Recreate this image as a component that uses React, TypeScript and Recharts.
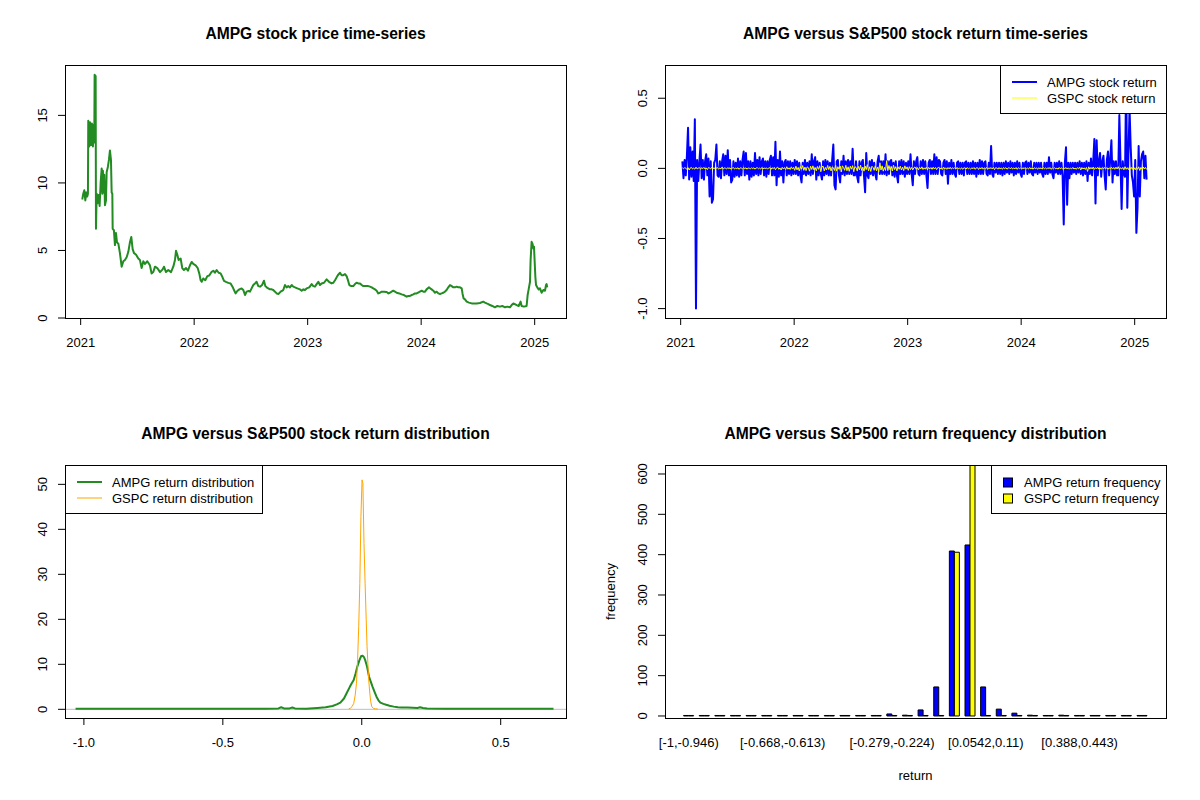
import React from 'react';
import { LineChart, Line, BarChart, Bar, XAxis, YAxis, ReferenceLine } from 'recharts';

/* ------------------------------------------------------------------ */
/* Data (read off the reference picture)                               */
/* ------------------------------------------------------------------ */

// AMPG close price: decimal year / USD
const PRICE_T = [
  2021.014, 2021.023, 2021.032, 2021.041, 2021.05, 2021.058, 2021.064, 2021.067, 2021.076, 2021.082,
  2021.091, 2021.099, 2021.108, 2021.114, 2021.12, 2021.123, 2021.132, 2021.135, 2021.141, 2021.15,
  2021.158, 2021.167, 2021.176, 2021.185, 2021.191, 2021.196, 2021.202, 2021.208, 2021.214, 2021.223,
  2021.229, 2021.24, 2021.249, 2021.258, 2021.267, 2021.273, 2021.279, 2021.282, 2021.293, 2021.302,
  2021.311, 2021.32, 2021.332, 2021.346, 2021.361, 2021.376, 2021.39, 2021.405, 2021.42, 2021.434,
  2021.446, 2021.458, 2021.47, 2021.487, 2021.508, 2021.522, 2021.537, 2021.552, 2021.567, 2021.587,
  2021.61, 2021.625, 2021.64, 2021.655, 2021.675, 2021.699, 2021.722, 2021.734, 2021.752, 2021.772,
  2021.796, 2021.816, 2021.831, 2021.84, 2021.851, 2021.863, 2021.881, 2021.895, 2021.91, 2021.928,
  2021.945, 2021.963, 2021.978, 2021.992, 2022.013, 2022.031, 2022.045, 2022.057, 2022.066, 2022.08,
  2022.098, 2022.116, 2022.133, 2022.154, 2022.169, 2022.183, 2022.198, 2022.216, 2022.233, 2022.248,
  2022.263, 2022.28, 2022.301, 2022.321, 2022.339, 2022.351, 2022.365, 2022.38, 2022.398, 2022.418,
  2022.433, 2022.448, 2022.462, 2022.48, 2022.492, 2022.506, 2022.521, 2022.536, 2022.55, 2022.565,
  2022.58, 2022.598, 2022.615, 2022.627, 2022.639, 2022.653, 2022.668, 2022.683, 2022.697, 2022.712,
  2022.727, 2022.744, 2022.762, 2022.785, 2022.8, 2022.815, 2022.829, 2022.844, 2022.859, 2022.873,
  2022.888, 2022.909, 2022.932, 2022.947, 2022.962, 2022.976, 2022.991, 2023.014, 2023.035, 2023.05,
  2023.064, 2023.079, 2023.094, 2023.108, 2023.123, 2023.144, 2023.167, 2023.188, 2023.211, 2023.226,
  2023.241, 2023.261, 2023.273, 2023.285, 2023.299, 2023.314, 2023.329, 2023.343, 2023.355, 2023.367,
  2023.384, 2023.402, 2023.417, 2023.431, 2023.446, 2023.461, 2023.476, 2023.49, 2023.514, 2023.534,
  2023.549, 2023.564, 2023.578, 2023.593, 2023.608, 2023.622, 2023.637, 2023.652, 2023.672, 2023.696,
  2023.711, 2023.725, 2023.74, 2023.754, 2023.769, 2023.784, 2023.807, 2023.828, 2023.848, 2023.872,
  2023.887, 2023.901, 2023.916, 2023.931, 2023.945, 2023.96, 2023.981, 2024.004, 2024.019, 2024.034,
  2024.048, 2024.069, 2024.081, 2024.092, 2024.107, 2024.122, 2024.136, 2024.151, 2024.166, 2024.18,
  2024.195, 2024.21, 2024.224, 2024.239, 2024.254, 2024.269, 2024.283, 2024.298, 2024.313, 2024.327,
  2024.342, 2024.357, 2024.365, 2024.374, 2024.386, 2024.401, 2024.421, 2024.445, 2024.465, 2024.489,
  2024.518, 2024.547, 2024.562, 2024.577, 2024.592, 2024.606, 2024.627, 2024.65, 2024.671, 2024.694,
  2024.715, 2024.738, 2024.759, 2024.782, 2024.797, 2024.812, 2024.826, 2024.841, 2024.859, 2024.876,
  2024.885, 2024.906, 2024.929, 2024.938, 2024.947, 2024.959, 2024.964, 2024.973, 2024.982, 2024.988,
  2024.994, 2025.0, 2025.006, 2025.012, 2025.023, 2025.035, 2025.047, 2025.061, 2025.076, 2025.091,
  2025.1, 2025.105, 2025.111,
];
const PRICE_V = [
  8.77, 9.2, 9.46, 8.7, 9.3, 9.0, 9.2, 14.6, 12.7, 14.5,
  12.8, 14.4, 12.7, 14.3, 13.0, 18.0, 17.9, 6.6, 9.2, 8.5,
  9.1, 8.3, 10.0, 11.06, 9.2, 10.9, 9.3, 10.6, 8.35, 8.7,
  10.8, 11.2, 11.7, 12.4, 11.7, 9.3, 9.2, 6.6, 6.5, 5.4,
  6.3, 5.6, 5.5, 4.8, 3.8, 4.2, 4.3, 4.5, 4.9, 5.6,
  6.0, 5.1, 4.8, 4.7, 4.4, 4.3, 3.7, 4.2, 4.0, 4.2,
  3.9, 3.3, 3.4, 3.8, 3.7, 3.4, 3.6, 3.8, 3.4, 3.55,
  3.4, 3.8, 4.3, 4.97, 4.7, 4.3, 4.4, 3.7, 3.55, 3.7,
  3.5, 3.9, 4.15, 4.0, 3.9, 3.7, 3.3, 2.8, 2.68, 2.93,
  2.8, 3.1, 3.15, 3.42, 3.5, 3.35, 3.55, 3.35, 3.3, 3.05,
  2.75, 2.68, 2.6, 2.56, 2.3, 2.07, 1.82, 2.0, 2.12, 2.19,
  2.07, 1.7, 1.95, 2.0, 1.95, 2.19, 2.44, 2.56, 2.68, 2.36,
  2.32, 2.44, 2.76, 2.36, 2.27, 2.19, 2.12, 2.12, 2.07, 1.95,
  1.82, 1.78, 1.95, 2.07, 2.44, 2.27, 2.36, 2.27, 2.44, 2.32,
  2.27, 2.19, 2.12, 2.02, 2.12, 2.07, 2.19, 2.27, 2.51, 2.36,
  2.32, 2.51, 2.68, 2.44, 2.56, 2.61, 2.86, 2.68, 2.56, 2.61,
  2.8, 3.1, 3.25, 3.35, 3.17, 3.17, 3.25, 3.1, 2.8, 2.44,
  2.36, 2.36, 2.51, 2.61, 2.56, 2.56, 2.44, 2.36, 2.36, 2.36,
  2.32, 2.27, 2.19, 2.12, 2.02, 1.82, 1.87, 1.95, 1.95, 1.92,
  1.82, 1.87, 1.95, 2.02, 1.95, 1.87, 1.82, 1.75, 1.7, 1.58,
  1.63, 1.63, 1.7, 1.75, 1.82, 1.82, 1.92, 2.02, 1.95, 1.95,
  2.12, 2.27, 2.19, 2.12, 2.02, 1.87, 1.95, 1.82, 1.78, 1.82,
  1.87, 1.95, 2.07, 2.27, 2.44, 2.36, 2.27, 2.27, 2.32, 2.27,
  2.27, 2.19, 1.78, 1.45, 1.38, 1.21, 1.14, 1.08, 1.08, 1.08,
  1.11, 1.21, 1.14, 1.08, 1.03, 0.96, 0.89, 0.79, 0.89, 0.84,
  0.89, 0.79, 0.84, 0.79, 0.96, 1.08, 1.03, 0.96, 0.89, 1.21,
  0.89, 0.84, 0.89, 1.7, 2.12, 2.68, 4.26, 5.64, 5.47, 5.15,
  5.28, 4.16, 3.05, 2.44, 2.27, 2.12, 2.19, 1.87, 2.07, 2.02,
  2.44, 2.51, 2.27,
];

// daily returns, one reading every RET_STEP years from RET_START
const RET_START = 2021.015;
const RET_STEP = 0.01;
const AMPG_RET = [
  0.05, -0.07, 0.06, -0.05, 0.09, 0.29, -0.08, 0.15, -0.06, 0.12, -0.09, 0.35, -1.0, 0.06, -0.09, 0.05, 0.17, -0.07, 0.06, -0.08,
  0.05, 0.1, -0.05, 0.07, -0.2, 0.05, -0.245, -0.22, 0.04, 0.06, 0.17, -0.05, -0.06, 0.05, -0.07, 0.05, 0.1, -0.05, 0.09, -0.04,
  0.13, -0.05, 0.06, -0.1, -0.08, 0.05, -0.06, 0.04, -0.05, 0.07, -0.06, 0.05, -0.05, 0.06, 0.12, -0.05, 0.11, -0.04, 0.05, -0.08,
  0.05, -0.06, 0.04, -0.05, 0.11, -0.04, 0.06, -0.05, 0.08, -0.04, 0.05, 0.07, -0.05, 0.05, -0.06, 0.05, -0.04, 0.06, 0.09, -0.05,
  0.08, -0.05, 0.19, -0.12, 0.06, -0.06, 0.12, -0.05, 0.05, -0.1, 0.04, 0.06, -0.05, 0.05, -0.04, 0.05, -0.05, 0.04, -0.04, 0.06,
  -0.04, 0.05, -0.05, 0.04, -0.05, -0.1, 0.04, -0.04, 0.06, -0.05, 0.04, -0.04, 0.05, -0.05, 0.1, -0.04, 0.05, 0.08, -0.08, 0.05,
  -0.05, 0.04, -0.04, -0.08, 0.05, -0.05, 0.06, -0.04, 0.05, -0.05, 0.04, -0.05, 0.06, 0.17, -0.12, -0.15, 0.05, 0.06, -0.05, -0.1,
  0.05, -0.04, 0.09, -0.05, 0.05, -0.04, 0.06, -0.04, 0.05, -0.04, 0.14, -0.05, -0.05, 0.05, -0.06, -0.1, 0.05, -0.05, 0.04, 0.06,
  -0.05, -0.17, 0.11, -0.05, -0.07, 0.05, -0.04, 0.06, -0.05, 0.04, -0.04, -0.08, 0.05, 0.09, -0.04, 0.05, -0.04, 0.05, -0.04, 0.1,
  -0.05, 0.05, -0.04, 0.05, 0.06, -0.05, 0.04, -0.06, 0.05, -0.05, -0.1, 0.05, -0.04, 0.06, -0.04, 0.05, -0.06, 0.04, -0.04, 0.05,
  -0.04, 0.1, -0.04, -0.12, 0.05, -0.04, 0.05, 0.08, -0.04, -0.05, 0.05, -0.04, 0.06, -0.04, 0.05, -0.05, -0.14, 0.04, 0.06, -0.04,
  0.05, -0.04, 0.1, -0.04, 0.08, -0.04, 0.06, 0.05, -0.04, -0.05, 0.04, 0.06, -0.04, 0.05, -0.11, 0.04, -0.04, 0.06, -0.04, 0.04,
  -0.04, -0.06, 0.04, 0.05, -0.04, 0.04, -0.04, 0.04, -0.05, 0.04, 0.05, -0.04, 0.04, -0.04, 0.04, -0.04, 0.05, -0.04, 0.04, -0.06,
  0.04, -0.04, 0.06, -0.04, 0.05, -0.04, 0.04, 0.05, -0.04, -0.05, 0.04, -0.04, 0.16, -0.04, -0.06, 0.04, -0.03, 0.04, -0.04, 0.04,
  -0.04, 0.04, -0.05, 0.04, -0.04, 0.05, -0.03, 0.04, -0.04, 0.05, -0.03, 0.04, -0.05, 0.04, -0.04, 0.05, -0.03, 0.04, -0.04, -0.06,
  0.04, -0.04, 0.04, 0.05, -0.04, 0.04, -0.03, 0.05, -0.04, -0.05, 0.04, -0.03, 0.04, -0.04, 0.04, -0.03, 0.04, -0.04, -0.06, 0.04,
  -0.04, 0.04, -0.04, 0.08, -0.03, 0.04, -0.04, -0.07, 0.04, -0.03, 0.04, -0.04, 0.05, -0.04, 0.04, -0.05, -0.4, 0.04, 0.15, -0.26,
  0.04, -0.07, 0.04, -0.04, 0.04, -0.03, 0.04, -0.04, 0.04, -0.03, 0.05, -0.04, 0.04, -0.05, 0.04, -0.04, 0.05, -0.09, 0.04, -0.04,
  0.07, -0.05, 0.05, 0.21, -0.25, 0.2, -0.05, 0.05, 0.11, -0.06, 0.05, 0.09, -0.05, -0.15, 0.06, 0.12, -0.05, 0.07, 0.2, -0.1,
  0.05, -0.04, 0.05, -0.05, -0.05, 0.38, 0.05, -0.29, 0.05, -0.04, -0.06, 0.67, -0.28, 0.1, 0.42, 0.15, -0.05, -0.1, -0.2, 0.06,
  -0.46, -0.28, 0.16, -0.2, 0.05, 0.1, 0.12, -0.07, 0.09, -0.08,
];
const GSPC_RET = [
  0.004, -0.003, 0.006, 0.002, -0.008, 0.005, -0.012, 0.003, 0.007, -0.005, 0.002, -0.006, 0.009, -0.004, 0.001, 0.006, -0.007, 0.005, -0.002, 0.007,
  -0.005, 0.003, -0.009, 0.006, 0.002, -0.004, 0.008, -0.003, 0.005, -0.007, 0.003, 0.005, -0.006, 0.002, -0.004, 0.01, -0.006, 0.004, 0.001, -0.005,
  0.006, -0.002, 0.004, -0.007, 0.003, 0.006, -0.005, 0.002, -0.003, 0.005, -0.007, 0.004, 0.002, -0.005, 0.006, -0.003, 0.004, -0.006, 0.003, 0.001,
  -0.004, 0.005, -0.002, 0.004, -0.006, 0.003, 0.005, -0.003, 0.002, -0.005, 0.006, -0.004, 0.003, -0.002, 0.004, -0.006, 0.003, 0.005, -0.008, 0.005,
  -0.003, 0.007, -0.01, 0.004, 0.009, -0.007, 0.003, -0.012, 0.008, -0.005, 0.006, -0.009, 0.012, -0.006, 0.004, -0.008, 0.011, -0.005, 0.007, -0.014,
  0.016, -0.011, 0.007, -0.018, 0.013, -0.006, 0.02, -0.014, 0.009, -0.016, 0.011, 0.005, -0.02, 0.015, -0.008, 0.018, -0.012, 0.006, -0.017, 0.014,
  -0.007, 0.019, -0.024, 0.011, 0.016, -0.018, 0.007, -0.012, 0.021, -0.009, 0.014, -0.019, 0.01, 0.005, -0.015, 0.024, -0.02, 0.012, -0.007, 0.017,
  -0.026, 0.018, 0.006, -0.014, 0.022, -0.017, 0.011, -0.021, 0.015, -0.006, 0.019, -0.024, 0.012, 0.007, -0.018, 0.014, -0.011, 0.023, -0.015, 0.009,
  -0.02, 0.017, -0.009, 0.027, -0.018, 0.011, -0.022, 0.015, 0.006, -0.014, 0.019, -0.017, 0.01, -0.025, 0.04, -0.012, 0.018, -0.02, 0.007, -0.015,
  0.055, -0.016, 0.02, -0.011, 0.014, -0.019, 0.023, -0.009, 0.012, -0.018, 0.011, -0.007, 0.015, -0.012, 0.009, -0.016, 0.018, -0.006, 0.011, -0.014,
  0.012, -0.009, 0.007, -0.011, 0.005, 0.01, -0.007, 0.006, -0.012, 0.008, -0.005, 0.011, -0.008, 0.004, -0.006, 0.009, -0.01, 0.007, -0.004, 0.006,
  -0.007, 0.008, -0.005, 0.006, -0.009, 0.005, 0.007, -0.006, 0.004, -0.008, 0.009, -0.005, 0.004, -0.007, 0.006, -0.004, 0.008, -0.006, 0.005, -0.003,
  0.006, -0.005, 0.007, -0.004, 0.002, -0.006, 0.005, -0.007, 0.004, 0.003, -0.005, 0.006, -0.004, 0.002, -0.006, 0.005, -0.003, 0.006, -0.007, 0.004,
  0.005, -0.008, 0.005, -0.004, 0.007, -0.006, 0.003, -0.005, 0.008, -0.007, 0.004, -0.002, 0.006, -0.005, 0.007, -0.009, 0.005, 0.003, -0.006, 0.006,
  -0.005, 0.004, -0.007, 0.006, -0.003, 0.005, -0.006, 0.002, 0.005, -0.004, 0.006, -0.005, 0.003, -0.004, 0.006, -0.007, 0.005, -0.002, 0.004, -0.006,
  0.005, -0.003, 0.006, -0.005, 0.002, -0.005, 0.007, -0.004, 0.003, -0.006, 0.005, -0.002, 0.004, -0.007, 0.005, -0.003, 0.004, -0.005, 0.006, -0.004,
  0.003, -0.005, 0.005, -0.002, 0.006, -0.007, 0.004, -0.003, 0.005, -0.004, 0.002, -0.006, 0.007, -0.004, 0.005, -0.005, 0.003, -0.002, 0.006, -0.005,
  0.004, -0.006, 0.003, -0.004, 0.007, -0.005, 0.002, -0.007, 0.005, -0.003, 0.009, -0.012, 0.006, -0.005, 0.004, -0.008, 0.007, -0.022, 0.011, -0.006,
  0.007, -0.005, 0.01, -0.007, 0.005, -0.004, 0.008, -0.006, 0.004, -0.007, 0.006, -0.005, 0.007, -0.003, 0.005, -0.007, 0.004, -0.004, 0.008, -0.005,
  0.006, -0.007, 0.009, -0.005, 0.012, -0.008, 0.005, -0.006, 0.007, -0.01, 0.012, -0.007, 0.005, -0.009, 0.011, -0.006, 0.007, -0.008, 0.005, -0.01,
  0.008, -0.007, 0.011, -0.015, 0.007, -0.006, 0.01, -0.005, 0.007, -0.008,
];

// kernel density curves of the returns
const AMPG_DENS_X = [
  -1.03, -0.9, -0.7, -0.5, -0.35, -0.3, -0.29, -0.28, -0.26, -0.25, -0.24, -0.2, -0.16, -0.13, -0.105,
  -0.09, -0.077, -0.064, -0.055, -0.043, -0.036, -0.029, -0.022, -0.016, -0.008, -0.002, 0.003, 0.008,
  0.013, 0.019, 0.026, 0.032, 0.039, 0.046, 0.053, 0.06, 0.067, 0.078, 0.088, 0.1, 0.115, 0.13, 0.143,
  0.165, 0.184, 0.2, 0.21, 0.22, 0.235, 0.3, 0.45, 0.6, 0.69,
];
const AMPG_DENS_Y = [
  0.15, 0.15, 0.15, 0.15, 0.15, 0.2, 0.45, 0.2, 0.2, 0.4, 0.2, 0.15, 0.3, 0.45, 0.75,
  1.1, 1.5, 2.4, 3.5, 5.0, 5.8, 6.5, 8.0, 9.5, 11.0, 11.85, 11.9, 11.6,
  10.8, 9.5, 7.3, 6.2, 5.0, 3.9, 2.8, 2.0, 1.5, 1.2, 1.0, 0.8, 0.6, 0.45, 0.4,
  0.4, 0.35, 0.3, 0.45, 0.3, 0.2, 0.15, 0.15, 0.15, 0.15,
];
const GSPC_DENS_X = [
  -0.047, -0.04, -0.035, -0.029, -0.024, -0.019, -0.015, -0.011, -0.007, -0.003, 0.001, 0.004,
  0.008, 0.012, 0.016, 0.019, 0.022, 0.025, 0.029, 0.032, 0.036, 0.042, 0.05, 0.058,
];
const GSPC_DENS_Y = [
  0.1, 0.3, 0.6, 1.3, 3.0, 5.8, 11.0, 18.4, 28, 42.8, 51, 50.2,
  36.9, 28, 19.9, 14, 10.2, 6.5, 3.6, 1.8, 0.6, 0.2, 0.1, 0.05,
];

// return histogram: 30 equal-width bins
const BINS = [
  '[-1,-0.946)', '[-0.946,-0.89)', '[-0.89,-0.835)', '[-0.835,-0.779)', '[-0.779,-0.724)',
  '[-0.724,-0.668)', '[-0.668,-0.613)', '[-0.613,-0.557)', '[-0.557,-0.501)', '[-0.501,-0.446)',
  '[-0.446,-0.39)', '[-0.39,-0.335)', '[-0.335,-0.279)', '[-0.279,-0.224)', '[-0.224,-0.168)',
  '[-0.168,-0.113)', '[-0.113,-0.057)', '[-0.057,-0.0014)', '[-0.0014,0.0542)', '[0.0542,0.11)',
  '[0.11,0.165)', '[0.165,0.221)', '[0.221,0.276)', '[0.276,0.332)', '[0.332,0.388)',
  '[0.388,0.443)', '[0.443,0.499)', '[0.499,0.554)', '[0.554,0.61)', '[0.61,0.667]',
];
const BINS_SHOWN = ['[-1,-0.946)', '[-0.668,-0.613)', '[-0.279,-0.224)', '[0.0542,0.11)', '[0.388,0.443)'];
const AMPG_FREQ = [1, 0, 0, 0, 0, 0, 0, 0, 0, 1, 1, 0, 1, 5, 2, 15, 72, 409, 424, 72, 17, 7, 2, 1, 2, 0, 1, 0, 0, 0];
const GSPC_FREQ = [0, 0, 0, 0, 0, 0, 0, 0, 0, 0, 0, 0, 0, 0, 0, 0, 0, 406, 624, 0, 0, 0, 0, 0, 0, 0, 0, 0, 0, 0];

const YEAR_TICKS = [2021, 2022, 2023, 2024, 2025];
const PRICE_TICKS = [0, 5, 10, 15];
const RET_TICKS = [-1, -0.5, 0, 0.5];
const DENS_Y_TICKS = [0, 10, 20, 30, 40, 50];
const FREQ_TICKS = [0, 100, 200, 300, 400, 500, 600];

/* ------------------------------------------------------------------ */
/* Layout                                                              */
/* ------------------------------------------------------------------ */

const FONT = '"Liberation Sans", Arial, Helvetica, sans-serif';
const W = 600;
const H = 400;
const BOX = { left: 65, top: 65, right: 566, bottom: 318 };
const Y_AXIS_W = 50;
const X_AXIS_H = 40;
const MARGIN = {
  top: BOX.top,
  right: W - BOX.right,
  bottom: H - BOX.bottom - X_AXIS_H,
  left: BOX.left - Y_AXIS_W,
};

const BLUE = '#0000FF';
const YELLOW = '#FFFF00';
const GREEN = '#228B22';
const ORANGE = '#FFA500';
const GREY = '#BEBEBE';

const YEAR_DOMAIN: [number, number] = [2020.862, 2025.276];
const TICK_FONT = 13;
const X_TICK = { fill: '#000', fontSize: TICK_FONT, fontFamily: FONT };
const TICK_LINE = { stroke: '#000' };

const priceRows = PRICE_T.map((t, i) => ({ t, v: PRICE_V[i] }));
const ampgRetRows = AMPG_RET.map((r, i) => ({ t: RET_START + i * RET_STEP, r }));
const gspcRetRows = GSPC_RET.map((r, i) => ({ t: RET_START + i * RET_STEP, r }));
const ampgDensRows = AMPG_DENS_X.map((x, i) => ({ x, y: AMPG_DENS_Y[i] }));
const gspcDensRows = GSPC_DENS_X.map((x, i) => ({ x, y: GSPC_DENS_Y[i] }));
const histRows = BINS.map((bin, i) => ({ bin, ampg: AMPG_FREQ[i], gspc: GSPC_FREQ[i] }));

const oneDecimal = (v: number) => v.toFixed(1);

// R draws y labels parallel to the axis
function rotatedTick(fmt: (v: number) => string) {
  return (props: any) => {
    const { x, y, payload } = props;
    return (
      <text
        x={x}
        y={y}
        transform={`rotate(-90 ${x} ${y})`}
        textAnchor="middle"
        fontSize={TICK_FONT}
        fontFamily={FONT}
        fill="#000"
      >
        {fmt(payload.value)}
      </text>
    );
  };
}

function binTick(props: any) {
  const { x, y, payload } = props;
  if (!BINS_SHOWN.includes(payload.value)) return <g />;
  return (
    <text x={x} y={y} dy="0.71em" textAnchor="middle" fontSize={TICK_FONT} fontFamily={FONT} fill="#000">
      {payload.value}
    </text>
  );
}

/* ------------------------------------------------------------------ */
/* Panel chrome: title, frame, legend                                  */
/* ------------------------------------------------------------------ */

interface LegendItem {
  label: string;
  color: string;
  width?: number;
}

function LegendBox({ x, width, items, boxes }: { x: number; width: number; items: LegendItem[]; boxes?: boolean }) {
  return (
    <g fontFamily={FONT} fontSize={TICK_FONT}>
      <rect x={x + 0.5} y={BOX.top + 0.5} width={width} height={48} fill="#fff" stroke="#000" />
      {items.map((it, i) => {
        const cy = 82 + 16 * i;
        return (
          <g key={it.label}>
            {boxes ? (
              <rect x={x + 12.5} y={cy - 4} width={9} height={9} fill={it.color} stroke="#000" />
            ) : (
              <line x1={x + 12} x2={x + 37} y1={cy} y2={cy} stroke={it.color} strokeWidth={it.width ?? 1} />
            )}
            <text x={x + (boxes ? 33 : 47)} y={cy + 4.5} fill="#000">
              {it.label}
            </text>
          </g>
        );
      })}
    </g>
  );
}

function Panel({
  left,
  top,
  title,
  children,
  extra,
}: {
  left: number;
  top: number;
  title: string;
  children: React.ReactNode;
  extra?: React.ReactNode;
}) {
  return (
    <div style={{ position: 'absolute', left, top, width: W, height: H }}>
      {children}
      <svg width={W} height={H} style={{ position: 'absolute', left: 0, top: 0, pointerEvents: 'none' }}>
        <text
          x={(BOX.left + BOX.right) / 2}
          y={39}
          textAnchor="middle"
          fontWeight="bold"
          fontSize={15.6}
          fontFamily={FONT}
          fill="#000"
        >
          {title}
        </text>
        {extra}
        <rect
          x={BOX.left + 0.5}
          y={BOX.top + 0.5}
          width={BOX.right - BOX.left}
          height={BOX.bottom - BOX.top}
          fill="none"
          stroke="#000"
        />
      </svg>
    </div>
  );
}

/* ------------------------------------------------------------------ */
/* App                                                                 */
/* ------------------------------------------------------------------ */

export default function App() {
  return (
    <div style={{ position: 'absolute', left: 0, top: 0, width: 1200, height: 800, background: '#fff', fontFamily: FONT }}>
      {/* price time-series */}
      <Panel left={0} top={0} title="AMPG stock price time-series">
        <LineChart width={W} height={H} margin={MARGIN} data={priceRows}>
          <XAxis
            dataKey="t"
            type="number"
            domain={YEAR_DOMAIN}
            ticks={YEAR_TICKS}
            allowDataOverflow
            axisLine={false}
            tickLine={TICK_LINE}
            tickSize={7}
            tickMargin={13}
            tick={X_TICK}
            height={X_AXIS_H}
          />
          <YAxis
            type="number"
            domain={[0, 18.73]}
            ticks={PRICE_TICKS}
            allowDataOverflow
            axisLine={false}
            tickLine={TICK_LINE}
            tickSize={7}
            tickMargin={11}
            width={Y_AXIS_W}
            tick={rotatedTick((v) => String(v))}
          />
          <Line
            dataKey="v"
            stroke={GREEN}
            strokeWidth={2}
            strokeLinejoin="round"
            dot={false}
            isAnimationActive={false}
          />
        </LineChart>
      </Panel>

      {/* return time-series */}
      <Panel
        left={600}
        top={0}
        title="AMPG versus S&P500 stock return time-series"
        extra={
          <LegendBox
            x={400}
            width={166}
            items={[
              { label: 'AMPG stock return', color: BLUE, width: 2 },
              { label: 'GSPC stock return', color: YELLOW, width: 1 },
            ]}
          />
        }
      >
        <LineChart width={W} height={H} margin={MARGIN}>
          <XAxis
            dataKey="t"
            type="number"
            domain={YEAR_DOMAIN}
            ticks={YEAR_TICKS}
            allowDataOverflow
            axisLine={false}
            tickLine={TICK_LINE}
            tickSize={7}
            tickMargin={13}
            tick={X_TICK}
            height={X_AXIS_H}
          />
          <YAxis
            type="number"
            domain={[-1.067, 0.737]}
            ticks={RET_TICKS}
            allowDataOverflow
            axisLine={false}
            tickLine={TICK_LINE}
            tickSize={7}
            tickMargin={11}
            width={Y_AXIS_W}
            tick={rotatedTick(oneDecimal)}
          />
          <Line
            data={ampgRetRows}
            dataKey="r"
            stroke={BLUE}
            strokeWidth={2}
            strokeLinejoin="round"
            dot={false}
            isAnimationActive={false}
          />
          <Line
            data={gspcRetRows}
            dataKey="r"
            stroke={YELLOW}
            strokeWidth={1}
            dot={false}
            isAnimationActive={false}
          />
        </LineChart>
      </Panel>

      {/* return densities */}
      <Panel
        left={0}
        top={400}
        title="AMPG versus S&P500 stock return distribution"
        extra={
          <LegendBox
            x={65}
            width={197}
            items={[
              { label: 'AMPG return distribution', color: GREEN, width: 2 },
              { label: 'GSPC return distribution', color: ORANGE, width: 1 },
            ]}
          />
        }
      >
        <LineChart width={W} height={H} margin={MARGIN}>
          <XAxis
            dataKey="x"
            type="number"
            domain={[-1.068, 0.735]}
            ticks={RET_TICKS}
            tickFormatter={oneDecimal}
            allowDataOverflow
            axisLine={false}
            tickLine={TICK_LINE}
            tickSize={7}
            tickMargin={13}
            tick={X_TICK}
            height={X_AXIS_H}
          />
          <YAxis
            type="number"
            domain={[-1.93, 54.3]}
            ticks={DENS_Y_TICKS}
            allowDataOverflow
            axisLine={false}
            tickLine={TICK_LINE}
            tickSize={7}
            tickMargin={11}
            width={Y_AXIS_W}
            tick={rotatedTick((v) => String(v))}
          />
          <ReferenceLine y={0} stroke={GREY} strokeWidth={1} />
          <Line
            data={ampgDensRows}
            dataKey="y"
            stroke={GREEN}
            strokeWidth={2}
            strokeLinejoin="round"
            dot={false}
            isAnimationActive={false}
          />
          <Line
            data={gspcDensRows}
            dataKey="y"
            stroke={ORANGE}
            strokeWidth={1}
            dot={false}
            isAnimationActive={false}
          />
        </LineChart>
      </Panel>

      {/* return frequencies */}
      <Panel
        left={600}
        top={400}
        title="AMPG versus S&P500 return frequency distribution"
        extra={
          <g>
            <LegendBox
              x={391}
              width={175}
              boxes
              items={[
                { label: 'AMPG return frequency', color: BLUE },
                { label: 'GSPC return frequency', color: YELLOW },
              ]}
            />
            <text
              x={(BOX.left + BOX.right) / 2}
              y={379.5}
              textAnchor="middle"
              fontSize={TICK_FONT}
              fontFamily={FONT}
              fill="#000"
            >
              return
            </text>
            <text
              x={14.5}
              y={(BOX.top + BOX.bottom) / 2}
              transform={`rotate(-90 14.5 ${(BOX.top + BOX.bottom) / 2})`}
              textAnchor="middle"
              fontSize={TICK_FONT}
              fontFamily={FONT}
              fill="#000"
            >
              frequency
            </text>
          </g>
        }
      >
        <BarChart width={W} height={H} margin={MARGIN} data={histRows} barCategoryGap="16.67%" barGap={0}>
          <XAxis
            dataKey="bin"
            type="category"
            padding={{ left: 16, right: 16 }}
            interval={0}
            axisLine={false}
            tickLine={false}
            tickSize={7}
            tickMargin={13}
            tick={binTick}
            height={X_AXIS_H}
          />
          <YAxis
            type="number"
            domain={[-5, 622.3]}
            ticks={FREQ_TICKS}
            allowDataOverflow
            axisLine={false}
            tickLine={TICK_LINE}
            tickSize={7}
            tickMargin={11}
            width={Y_AXIS_W}
            tick={rotatedTick((v) => String(v))}
          />
          <Bar dataKey="ampg" fill={BLUE} stroke="#000" strokeWidth={1} minPointSize={0.5} isAnimationActive={false} />
          <Bar dataKey="gspc" fill={YELLOW} stroke="#000" strokeWidth={1} minPointSize={0.5} isAnimationActive={false} />
        </BarChart>
      </Panel>
    </div>
  );
}
